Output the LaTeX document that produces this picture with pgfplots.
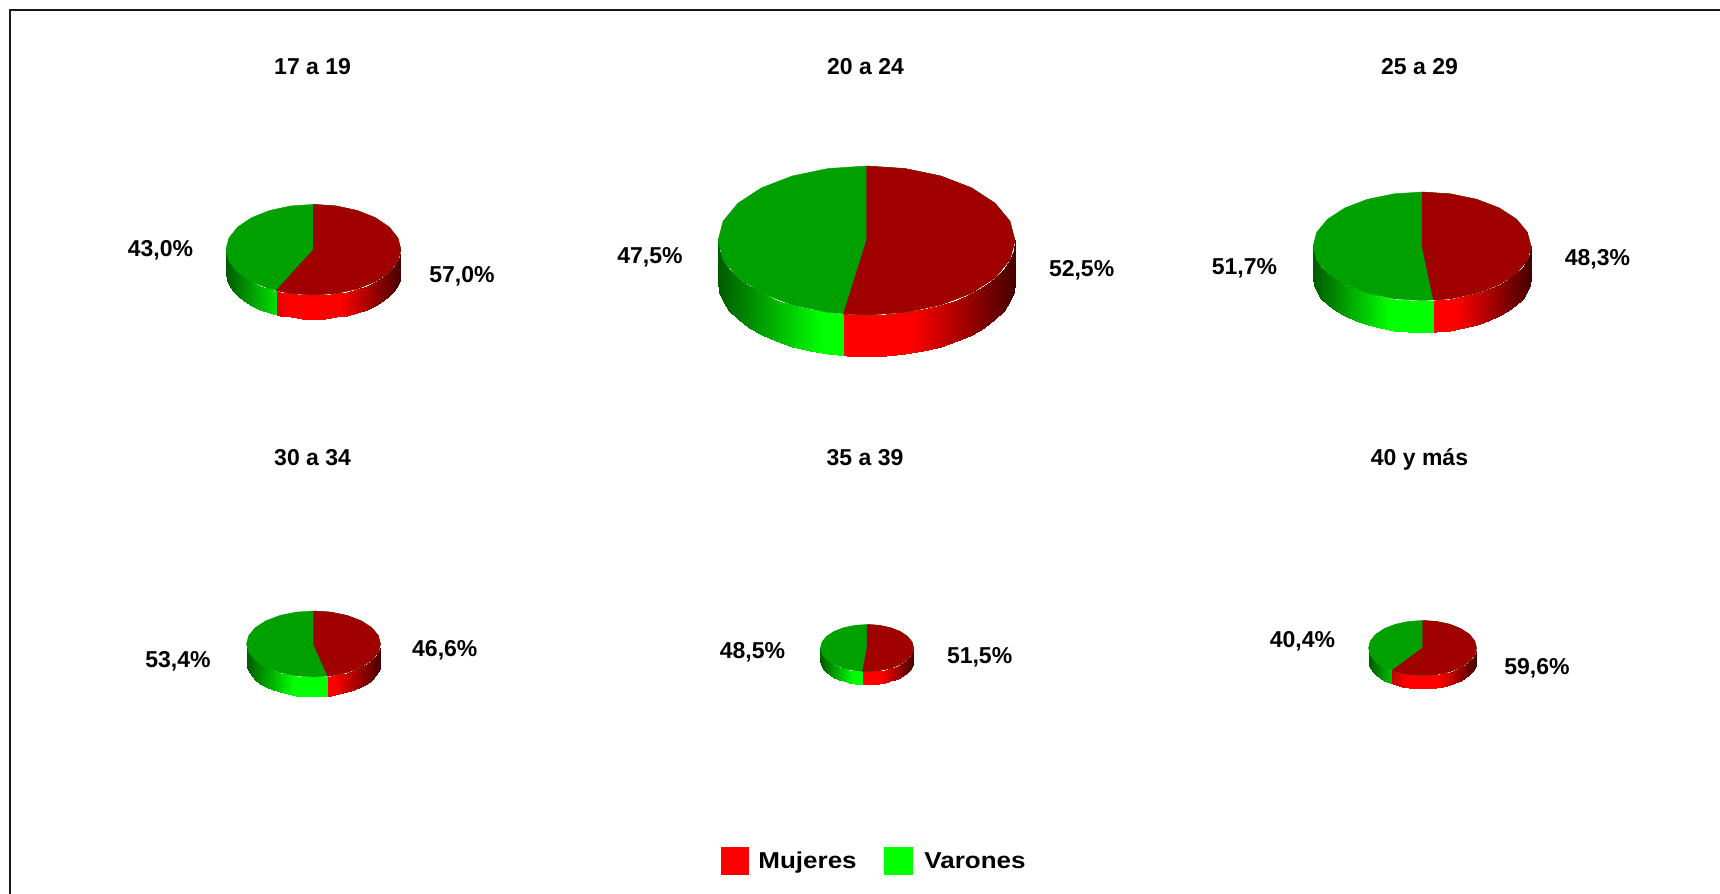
\documentclass[border=0pt]{standalone}
\usepackage{pgfplots}
\usepackage{pgfplotstable}
\usepackage{fontspec}
\setmainfont{Liberation Sans}
\pgfplotsset{compat=1.18}
\definecolor{topR}{RGB}{160,0,0}
\definecolor{topG}{RGB}{0,160,0}
\pgfplotsset{
 colormap={wallR}{rgb255(0cm)=(90,0,0) rgb255(7cm)=(255,0,0) rgb255(13cm)=(255,0,0) rgb255(20cm)=(70,0,0)},
 colormap={wallG}{rgb255(0cm)=(0,90,0) rgb255(7cm)=(0,255,0) rgb255(13cm)=(0,255,0) rgb255(20cm)=(0,80,0)},
}
% front wall of a unit pie: pairs of top/bottom edge points
\pgfplotstableread{
x y b
1 0 0
1 0 1
.9914 -.1305 0
.9914 -.1305 1
.9659 -.2588 0
.9659 -.2588 1
.9239 -.3827 0
.9239 -.3827 1
.866 -.5 0
.866 -.5 1
.7934 -.6088 0
.7934 -.6088 1
.7071 -.7071 0
.7071 -.7071 1
.6088 -.7934 0
.6088 -.7934 1
.5 -.866 0
.5 -.866 1
.3827 -.9239 0
.3827 -.9239 1
.2588 -.9659 0
.2588 -.9659 1
.1305 -.9914 0
.1305 -.9914 1
0 -1 0
0 -1 1
-.1305 -.9914 0
-.1305 -.9914 1
-.2588 -.9659 0
-.2588 -.9659 1
-.3827 -.9239 0
-.3827 -.9239 1
-.5 -.866 0
-.5 -.866 1
-.6088 -.7934 0
-.6088 -.7934 1
-.7071 -.7071 0
-.7071 -.7071 1
-.7934 -.6088 0
-.7934 -.6088 1
-.866 -.5 0
-.866 -.5 1
-.9239 -.3827 0
-.9239 -.3827 1
-.9659 -.2588 0
-.9659 -.2588 1
-.9914 -.1305 0
-.9914 -.1305 1
-1 0 0
-1 0 1
}\wall
\pgfplotstableread{
x y
0 1
.2588 .9659
.5 .866
.7071 .7071
.866 .5
.9659 .2588
1 0
.9659 -.2588
.866 -.5
.7071 -.7071
.5 -.866
.2588 -.9659
0 -1
-.2588 -.9659
-.5 -.866
-.7071 -.7071
-.866 -.5
-.9659 -.2588
-1 0
-.9659 .2588
-.866 .5
-.7071 .7071
-.5 .866
-.2588 .9659
0 1
}\disc
% #1 cx, #2 cy, #3 rx, #4 ry (pixels), #5 depth/ry, #6 x of split, #7 Mujeres wedge
\newcommand{\PIE}[7]{%
\begin{axis}[at={({#1*0.5pt},{(894-#2)*0.5pt})},anchor=center,scale only axis,
  width=#3pt,height=#4pt,xmin=-1,xmax=1,ymin=-1,ymax=1,hide axis,clip=false,
  point meta min=-1,point meta max=1]
 \begin{scope}
  \clip (axis cs:#6,-3) rectangle (axis cs:1.2,2);
  \addplot[surf,shader=interp,mesh/cols=2,colormap name=wallR,point meta=x] table[x=x,y expr=\thisrow{y}-\thisrow{b}*#5] {\wall};
 \end{scope}
 \begin{scope}
  \clip (axis cs:-1.2,-3) rectangle (axis cs:#6,2);
  \addplot[surf,shader=interp,mesh/cols=2,colormap name=wallG,point meta=x] table[x=x,y expr=\thisrow{y}-\thisrow{b}*#5] {\wall};
 \end{scope}
 \addplot[fill=topG,draw=topG,line width=.2pt] table[x=x,y=y] {\disc} \closedcycle;
 \addplot[fill=topR,draw=topR,line width=.2pt] coordinates {#7};
\end{axis}}
\newcommand{\lab}[3]{\node[font=\fontsize{11.5}{13}\selectfont\bfseries,text=black,inner sep=0pt] at (axis cs:#1,#2) {#3};}
\begin{document}
\begin{tikzpicture}
\useasboundingbox (0,0) rectangle (860pt,447pt);
\begin{axis}[at={(0,0)},anchor=south west,scale only axis,width=860pt,height=447pt,
  xmin=0,xmax=1720,ymin=0,ymax=894,y dir=reverse,hide axis,clip=false]
 \addplot[color=black!90,line width=.9pt] coordinates {(10,894) (10,10) (1720,10)};
 \addplot[fill=red,draw=none] coordinates {(721,847) (749,847) (749,875) (721,875)} -- cycle;
 \addplot[fill=green,draw=none] coordinates {(884,847) (913,847) (913,875) (884,875)} -- cycle;
 \lab{312.6}{67}{17 a 19}
 \lab{865.5}{67}{20 a 24}
 \lab{1419.5}{67}{25 a 29}
 \lab{312.6}{458}{30 a 34}
 \lab{865}{458}{35 a 39}
 \lab{1419.5}{459.5}{40 y más}
 \lab{160.5}{250.5}{43,0\%}
 \lab{462}{276.5}{57,0\%}
 \lab{650}{257.5}{47,5\%}
 \lab{1081.6}{270}{52,5\%}
 \lab{1244.5}{268}{51,7\%}
 \lab{1597.5}{259.5}{48,3\%}
 \lab{178}{661.5}{53,4\%}
 \lab{444.8}{650.5}{46,6\%}
 \lab{752.5}{652.5}{48,5\%}
 \lab{979.6}{657}{51,5\%}
 \lab{1302.5}{641.5}{40,4\%}
 \lab{1537}{668}{59,6\%}
 \node[font=\fontsize{11.5}{13}\selectfont\bfseries,anchor=base west,xscale=1.13,inner sep=0pt] at (axis cs:758,868) {Mujeres};
 \node[font=\fontsize{11.5}{13}\selectfont\bfseries,anchor=base west,xscale=1.13,inner sep=0pt] at (axis cs:924,868) {Varones};
\end{axis}
\PIE{313.4}{249.7}{87.5}{45.3}{.53}{-.426}{(0,0) (0,1) (.2588,.9659) (.5,.866) (.7071,.7071) (.866,.5) (.9659,.2588) (1,0) (.9659,-.2588) (.866,-.5) (.7071,-.7071) (.5,-.866) (.2588,-.9659) (0,-1) (-.2588,-.9659) (-.426,-.905) (0,0)}
\PIE{866.5}{240.5}{148.5}{74.5}{.56}{-.156}{(0,0) (0,1) (.2588,.9659) (.5,.866) (.7071,.7071) (.866,.5) (.9659,.2588) (1,0) (.9659,-.2588) (.866,-.5) (.7071,-.7071) (.5,-.866) (.2588,-.9659) (0,-1) (-.156,-.988) (0,0)}
\PIE{1422}{246.3}{109}{54.3}{.585}{.106}{(0,0) (0,1) (.2588,.9659) (.5,.866) (.7071,.7071) (.866,.5) (.9659,.2588) (1,0) (.9659,-.2588) (.866,-.5) (.7071,-.7071) (.5,-.866) (.2588,-.9659) (.106,-.994) (0,0)}
\PIE{313.5}{644}{67}{33}{.6}{.211}{(0,0) (0,1) (.2588,.9659) (.5,.866) (.7071,.7071) (.866,.5) (.9659,.2588) (1,0) (.9659,-.2588) (.866,-.5) (.7071,-.7071) (.5,-.866) (.2588,-.9659) (.211,-.977) (0,0)}
\PIE{867}{648}{46.6}{23.5}{.55}{-.094}{(0,0) (0,1) (.2588,.9659) (.5,.866) (.7071,.7071) (.866,.5) (.9659,.2588) (1,0) (.9659,-.2588) (.866,-.5) (.7071,-.7071) (.5,-.866) (.2588,-.9659) (0,-1) (-.094,-.996) (0,0)}
\PIE{1422.5}{648}{54}{27.5}{.48}{-.568}{(0,0) (0,1) (.2588,.9659) (.5,.866) (.7071,.7071) (.866,.5) (.9659,.2588) (1,0) (.9659,-.2588) (.866,-.5) (.7071,-.7071) (.5,-.866) (.2588,-.9659) (0,-1) (-.2588,-.9659) (-.5,-.866) (-.568,-.823) (0,0)}
\end{tikzpicture}
\end{document}
